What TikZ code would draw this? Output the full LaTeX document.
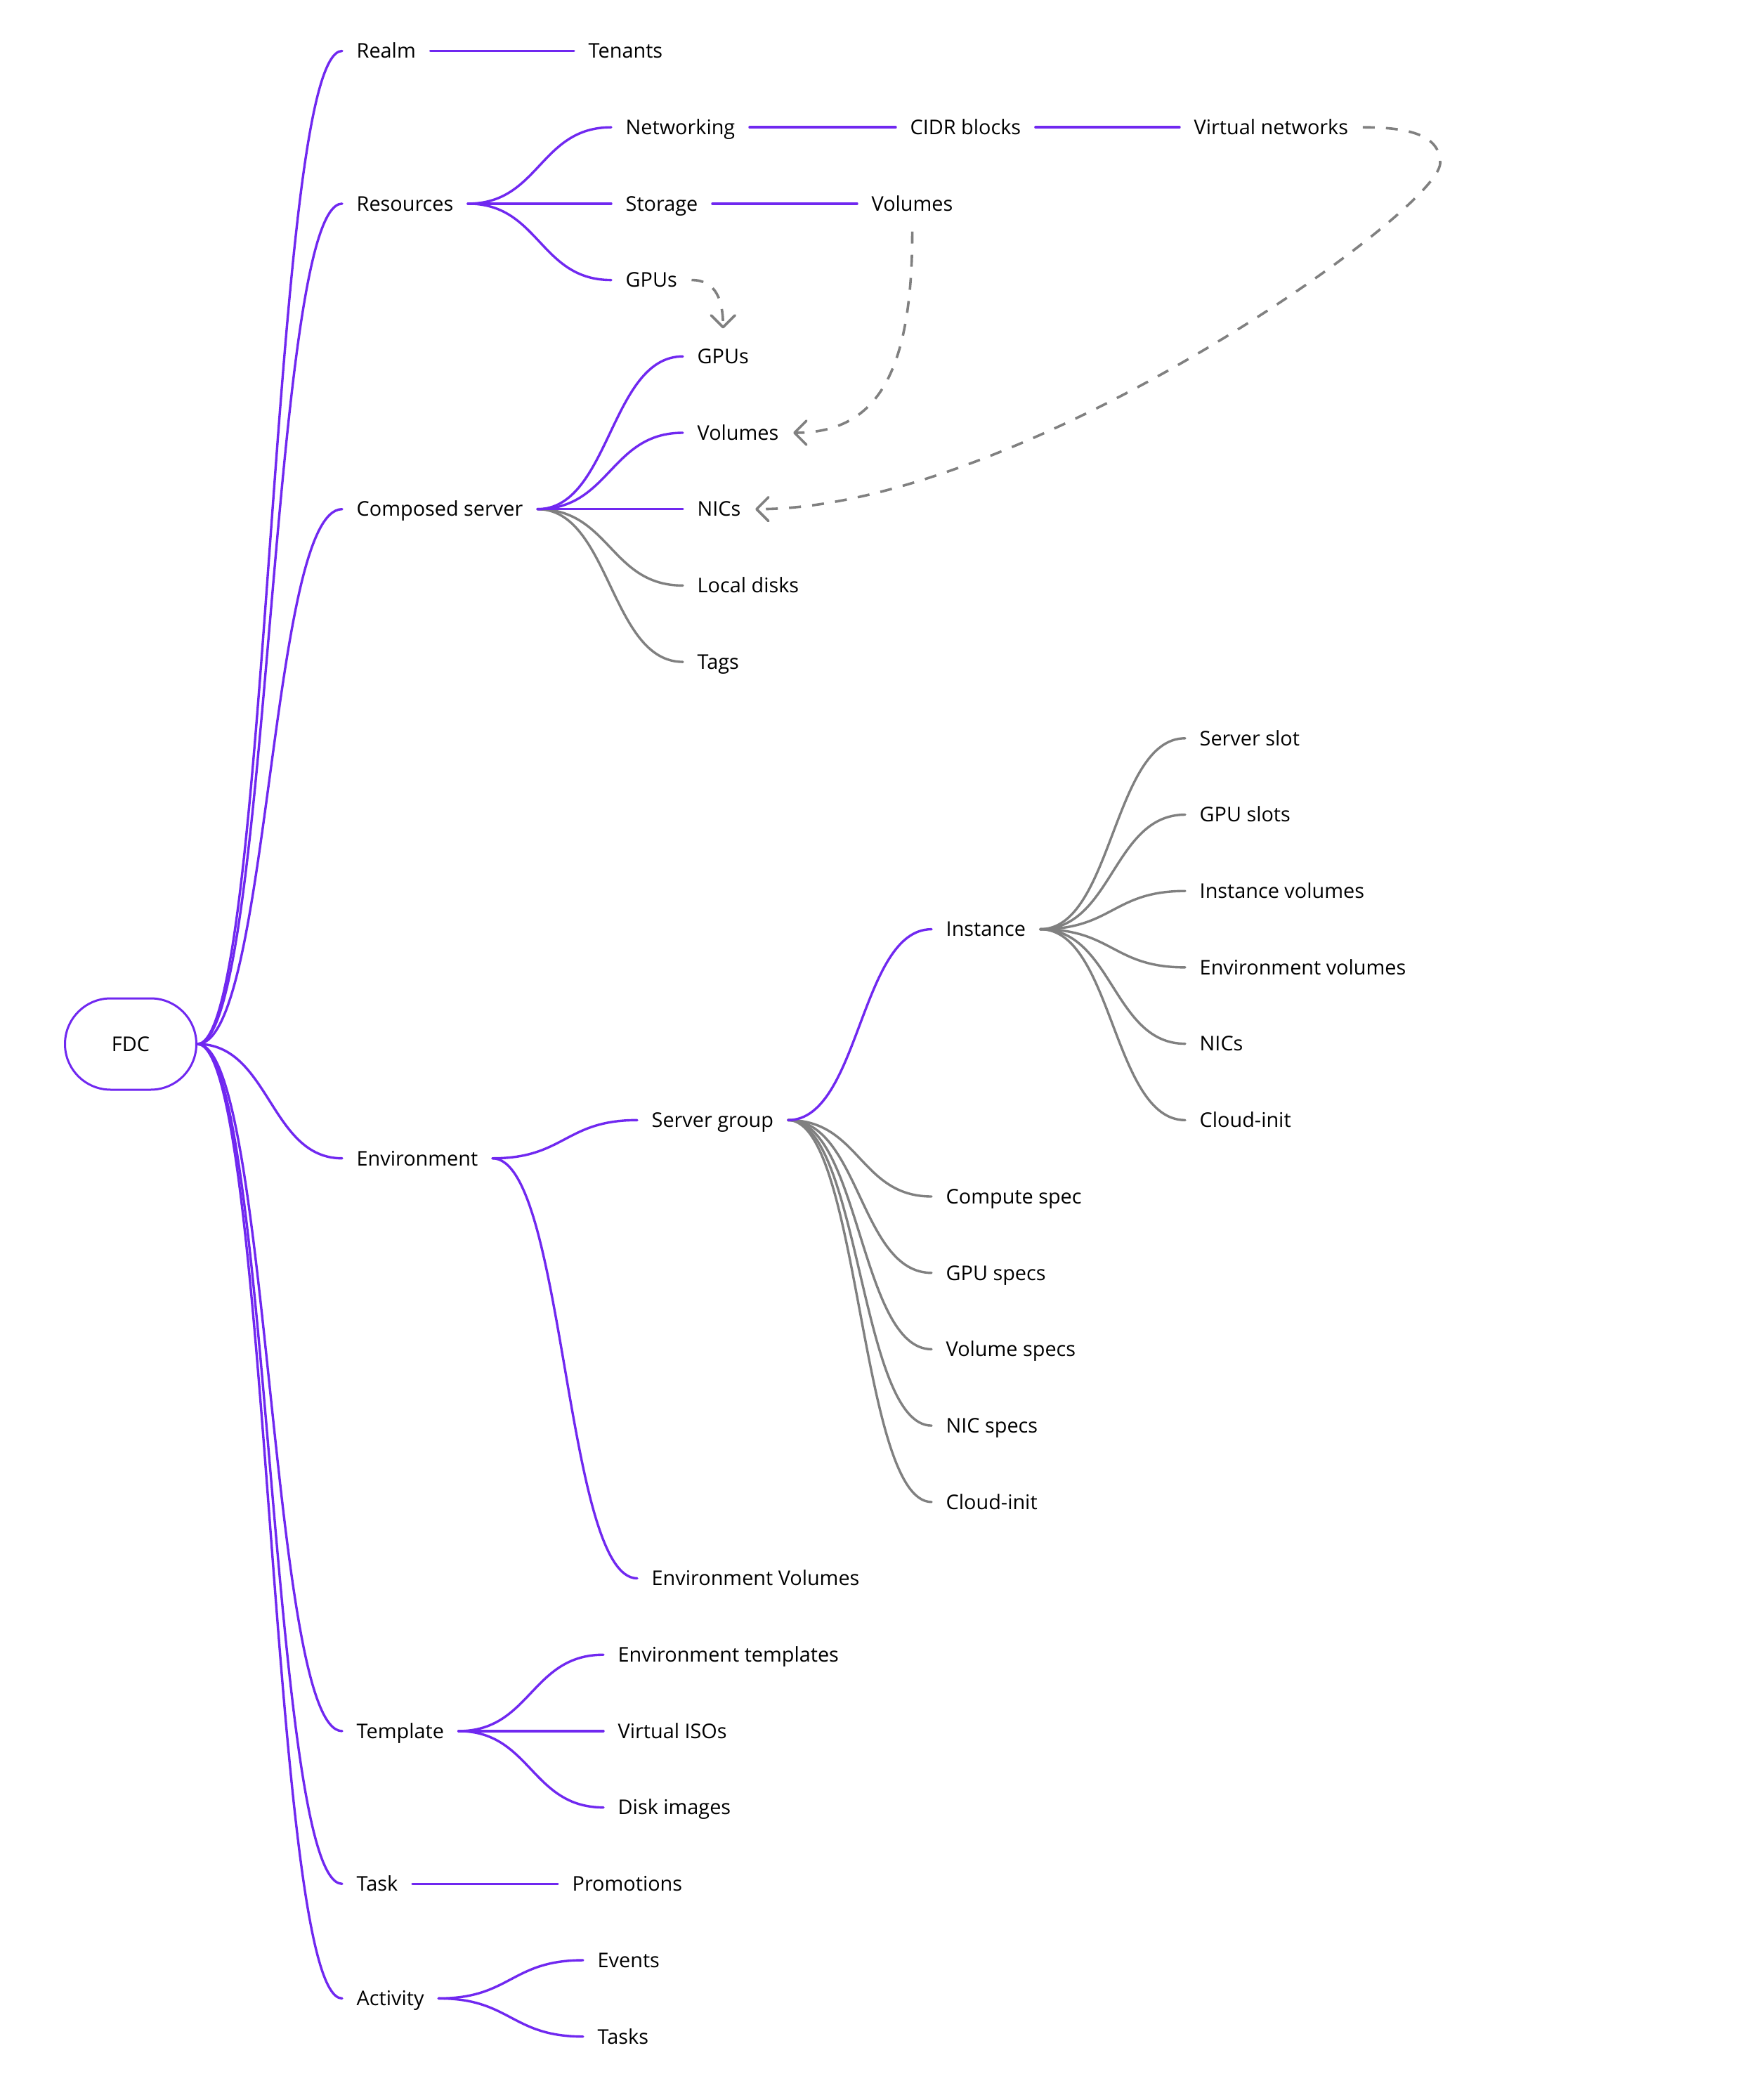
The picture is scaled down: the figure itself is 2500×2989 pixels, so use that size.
\documentclass[tikz,border=0pt]{standalone}
\usepackage{fontspec}
\setmainfont{Open Sans}
\usetikzlibrary{arrows.meta, shapes.misc, calc}

\definecolor{fdcpurple}{RGB}{112,40,240}
\definecolor{fdcgray}{RGB}{128,128,128}

\newcommand{\fdcfont}{\fontsize{8.2}{10}\selectfont}
% S-shaped branch from the right side of one item to the left side of the next
\newcommand{\branch}[3][fdcpurple]{%
  \draw[#1, line width=0.34mm, line cap=round]
    let \p1=(#2.east), \p2=(#3.west) in
    (\p1) .. controls ({0.5*\x1+0.5*\x2},\y1) and ({0.5*\x1+0.5*\x2},\y2) .. (\p2);}

\tikzset{
  item/.style={anchor=west, inner xsep=2mm, inner ysep=0pt, minimum height=7.8mm,
    text height=2.06mm, text depth=0pt, font=\fdcfont},
  link/.style={draw=fdcgray, line width=0.36mm, dash pattern=on 1.7mm off 1.6mm,
    -{Straight Barb[length=1.7mm, width=3.4mm, round]}}
}

\begin{document}
\begin{tikzpicture}[x=0.1mm,y=-0.1mm]
\useasboundingbox (0,0) rectangle (2500,2989);

\node[rounded rectangle, draw=fdcpurple, line width=0.3mm, minimum width=18.7mm,
  minimum height=13mm, inner sep=0pt, text height=2.06mm, text depth=0pt,
  font=\fdcfont] (fdc) at (186,1486) {FDC};

% first level
\node[item] (realm) at (487,72.5) {Realm};
\node[item] (res) at (487,289.9) {Resources};
\node[item] (comp) at (487,724.7) {Composed server};
\node[item] (env) at (487,1648.7) {Environment};
\node[item] (tmpl) at (487,2463.9) {Template};
\node[item] (task) at (487,2681.3) {Task};
\node[item] (act) at (487,2844.4) {Activity};

% realm and resources
\node[item] (tenants) at (817,72.5) {Tenants};
\node[item] (net) at (870,181.2) {Networking};
\node[item] (stor) at (870,289.9) {Storage};
\node[item] (gpu1) at (870,398.6) {GPUs};
\node[item] (cidr) at (1275,181.2) {CIDR blocks};
\node[item] (vnet) at (1679,181.2) {Virtual networks};
\node[item] (vol1) at (1220,289.9) {Volumes};

% composed server
\node[item] (gpu2) at (972,507.3) {GPUs};
\node[item] (vol2) at (972,616.0) {Volumes};
\node[item] (nic1) at (972,724.7) {NICs};
\node[item] (disks) at (972,833.4) {Local disks};
\node[item] (tags) at (972,942.1) {Tags};

% environment
\node[item] (sgrp) at (907,1594.3) {Server group};
\node[item] (envvol) at (907,2246.5) {Environment Volumes};
\node[item] (inst) at (1326,1322.6) {Instance};
\node[item] (slot) at (1687,1050.8) {Server slot};
\node[item] (gslot) at (1687,1159.5) {GPU slots};
\node[item] (ivol) at (1687,1268.2) {Instance volumes};
\node[item] (evol) at (1687,1376.9) {Environment volumes};
\node[item] (nic2) at (1687,1485.6) {NICs};
\node[item] (cinit1) at (1687,1594.3) {Cloud-init};
\node[item] (cspec) at (1326,1703.0) {Compute spec};
\node[item] (gspec) at (1326,1811.7) {GPU specs};
\node[item] (vspec) at (1326,1920.4) {Volume specs};
\node[item] (nspec) at (1326,2029.1) {NIC specs};
\node[item] (cinit2) at (1326,2137.8) {Cloud-init};

% template, task, activity
\node[item] (etmpl) at (859,2355.2) {Environment templates};
\node[item] (iso) at (859,2463.9) {Virtual ISOs};
\node[item] (dimg) at (859,2572.6) {Disk images};
\node[item] (promo) at (794,2681.3) {Promotions};
\node[item] (events) at (830,2790.0) {Events};
\node[item] (tasks) at (830,2898.7) {Tasks};

\branch{fdc}{realm}
\branch{fdc}{res}
\branch{fdc}{comp}
\branch{fdc}{env}
\branch{fdc}{tmpl}
\branch{fdc}{task}
\branch{fdc}{act}

\branch{realm}{tenants}
\branch{res}{net}
\branch{res}{stor}
\branch{res}{gpu1}
\branch{net}{cidr}
\branch{cidr}{vnet}
\branch{stor}{vol1}

\branch[fdcgray]{comp}{disks}
\branch[fdcgray]{comp}{tags}
\branch{comp}{gpu2}
\branch{comp}{vol2}
\branch{comp}{nic1}

\branch{env}{sgrp}
\branch{env}{envvol}
\branch[fdcgray]{sgrp}{cspec}
\branch[fdcgray]{sgrp}{gspec}
\branch[fdcgray]{sgrp}{vspec}
\branch[fdcgray]{sgrp}{nspec}
\branch[fdcgray]{sgrp}{cinit2}
\branch{sgrp}{inst}
\branch[fdcgray]{inst}{slot}
\branch[fdcgray]{inst}{gslot}
\branch[fdcgray]{inst}{ivol}
\branch[fdcgray]{inst}{evol}
\branch[fdcgray]{inst}{nic2}
\branch[fdcgray]{inst}{cinit1}

\branch{tmpl}{etmpl}
\branch{tmpl}{iso}
\branch{tmpl}{dimg}
\branch{task}{promo}
\branch{act}{events}
\branch{act}{tasks}

% references between resources and the composed server
\draw[link] (gpu1.east) .. controls +(35,0) and +(0,-40) .. (gpu2.north);
\draw[link] (vol1.south) .. controls +(0,200) and +(120,0) .. (vol2.east);
\coordinate (vbend) at (2050,232);
\draw[link] (vnet.east) .. controls +(60,0) and +(0,-42) .. (vbend)
  .. controls +(0,68) and +(376,0) .. (nic1.east);
\end{tikzpicture}
\end{document}
